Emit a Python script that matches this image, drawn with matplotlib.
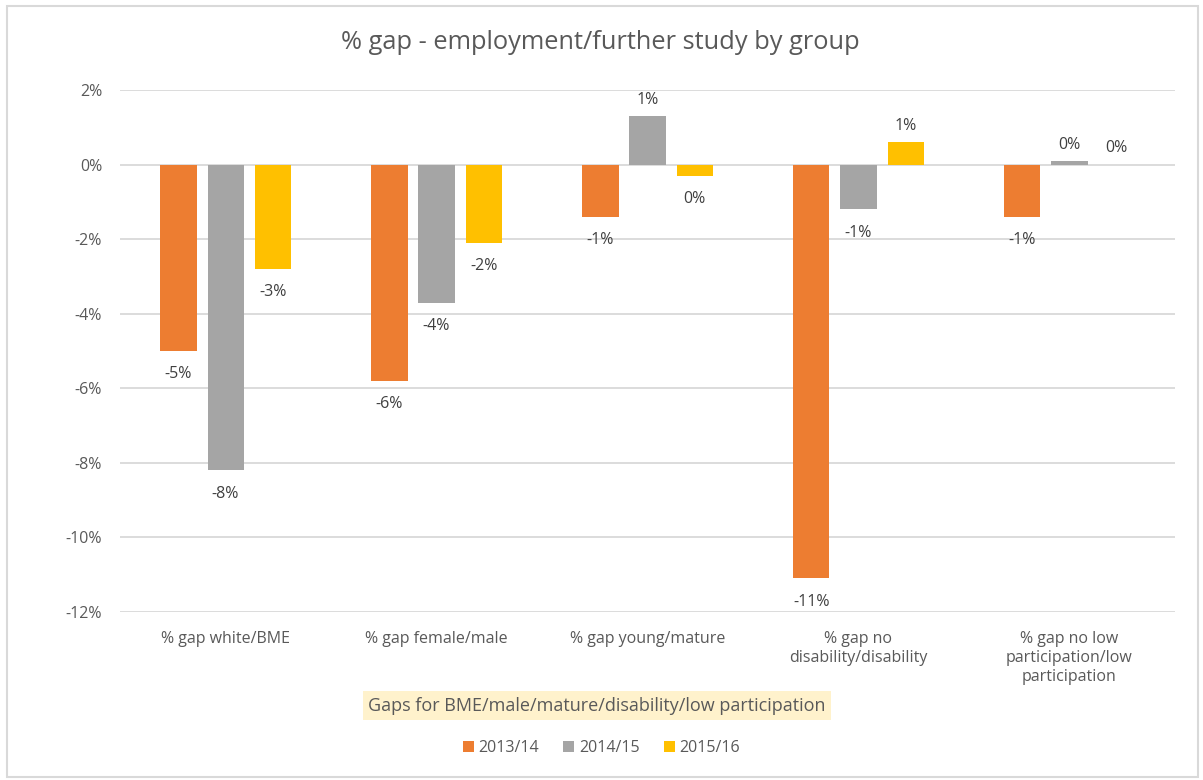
import matplotlib
matplotlib.use("Agg")
import matplotlib.pyplot as plt
import numpy as np
from matplotlib.patches import Rectangle

categories = ["% gap white/BME", "% gap female/male", "% gap young/mature",
              "% gap no\ndisability/disability", "% gap no low\nparticipation/low\nparticipation"]
series_names = ["2013/14", "2014/15", "2015/16"]
v2013 = [-5.0, -5.8, -1.4, -11.1, -1.4]
v2014 = [-8.2, -3.7, 1.3, -1.2, 0.1]
v2015 = [-2.8, -2.1, -0.3, 0.6, 0.0]
colors = ["#ED7D31", "#A5A5A5", "#FFC000"]
yticks = [2, 0, -2, -4, -6, -8, -10, -12]

plt.rcParams['font.family'] = ['Open Sans', 'DejaVu Sans']

fig = plt.figure(figsize=(12.03, 7.8), dpi=100)
ax = fig.add_axes([0.0998, 0.2154, 0.9767 - 0.0998, 0.8846 - 0.2154])

x = np.arange(len(categories))
offs = [-0.223, 0, 0.223]
w = 0.171
for vals, off, c, name in zip([v2013, v2014, v2015], offs, colors, series_names):
    ax.bar(x + off, vals, width=w, color=c, label=name, zorder=3)
    for xi, v in zip(x + off, vals):
        lab = f"{round(v):.0f}%"
        if lab == "-0%":
            lab = "0%"
        if v >= 0:
            ax.annotate(lab, (xi, v), xytext=(0, 6), textcoords="offset points",
                        ha="center", va="bottom", fontsize=11.5, color="#404040")
        else:
            ax.annotate(lab, (xi, v), xytext=(0, -11), textcoords="offset points",
                        ha="center", va="top", fontsize=11.5, color="#404040")

ax.set_xlim(-0.5, 4.5)
ax.set_ylim(-12, 2)
ax.set_yticks(yticks)
ax.set_yticklabels([f"{t}%" for t in yticks], fontsize=11.5, color="#595959")
ax.set_xticks(x)
ax.set_xticklabels(categories, fontsize=11.5, color="#595959", linespacing=1.25, va="top")
ax.tick_params(axis="both", length=0)
ax.tick_params(axis="x", pad=14)
ax.tick_params(axis="y", pad=13)
ax.grid(axis="y", color="#D9D9D9", linewidth=1.3, zorder=0)
for s in ax.spines.values():
    s.set_visible(False)

fig.text(0.499, 0.946, "% gap - employment/further study by group", ha="center", va="center",
         fontsize=18.3, color="#595959")
fig.text(0.496, 0.095, "Gaps for BME/male/mature/disability/low participation", ha="center", va="center",
         fontsize=13, color="#595959",
         bbox=dict(boxstyle="square,pad=0.3", facecolor="#FFF2CC", edgecolor="none"))

leg = fig.legend(loc="center", bbox_to_anchor=(0.5, 0.041), ncol=3, frameon=False,
                 fontsize=11.5, handlelength=0.7, handleheight=0.7, handletextpad=0.3,
                 columnspacing=1.5)
for t in leg.get_texts():
    t.set_color("#595959")

fig.patches.append(Rectangle((0.006, 0.004), 0.99, 0.988, transform=fig.transFigure,
                             fill=False, edgecolor="#D9D9D9", linewidth=1.5))

fig.savefig("out.png", dpi=100)
